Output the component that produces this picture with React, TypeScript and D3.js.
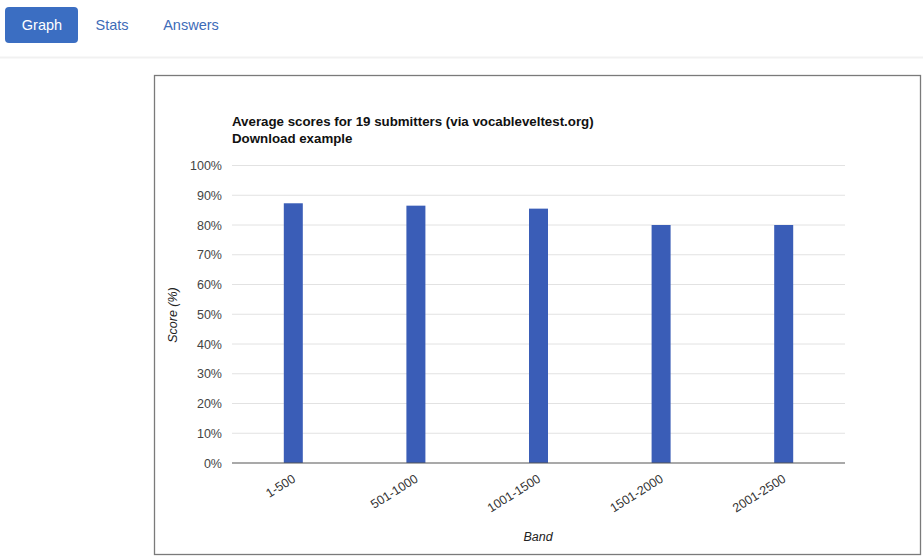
import React from "react";
import * as d3 from "d3";

const bands = ["1-500", "501-1000", "1001-1500", "1501-2000", "2001-2500"];
const scores = [0.873, 0.865, 0.855, 0.8, 0.8];
const yTicks = [0, 0.1, 0.2, 0.3, 0.4, 0.5, 0.6, 0.7, 0.8, 0.9, 1.0];
const tabs = ["Graph", "Stats", "Answers"];
const titleLines = ["Average scores for 19 submitters (via vocableveltest.org)", "Download example"];

const W = 923;
const H = 558;
const font = "'Liberation Sans', Arial, Helvetica, sans-serif";

export default function App() {
  const x = d3.scaleBand<string>().domain(bands).range([232, 845]).paddingInner(0.845).paddingOuter(0.4225);
  const y = d3.scaleLinear().domain([0, 1]).range([463, 165.5]);
  const fmt = d3.format(".0%");
  const tabX = [42, 112, 191];

  return (
    <svg width={W} height={H} style={{ position: "absolute", left: 0, top: 0, display: "block", background: "#fff" }} fontFamily={font}>
      {/* tabs */}
      <rect x={5} y={7} width={73} height={36} rx={4} fill="#3b6ec2" />
      {tabs.map((t, i) => (
        <text key={t} x={tabX[i]} y={30} textAnchor="middle" fontSize={14.5} fill={i === 0 ? "#fff" : "#3d6bb8"}>
          {t}
        </text>
      ))}
      <line x1={0} x2={W} y1={57.5} y2={57.5} stroke="#f1f1f1" strokeWidth={2} />

      {/* chart box */}
      <rect x={154.5} y={75.5} width={766} height={479} fill="#fff" stroke="#7a7a7a" strokeWidth={1.3} />

      {/* title */}
      {titleLines.map((l, i) => (
        <text key={i} x={232} y={126 + i * 17} fontSize={13.3} fontWeight="bold" fill="#111">
          {l}
        </text>
      ))}

      {/* gridlines & y ticks */}
      {yTicks.map((v) => (
        <g key={v}>
          {v > 0 && <line x1={232} x2={845} y1={y(v)} y2={y(v)} stroke="#e2e2e2" strokeWidth={1} />}
          <text x={222} y={y(v) + 4.5} textAnchor="end" fontSize={12.5} fill="#444">
            {fmt(v)}
          </text>
        </g>
      ))}

      {/* bars */}
      {bands.map((b, i) => (
        <rect key={b} x={x(b)!} y={y(scores[i])} width={x.bandwidth()} height={y(0) - y(scores[i])} fill="#3a5db7" />
      ))}

      {/* baseline */}
      <line x1={232} x2={845} y1={y(0)} y2={y(0)} stroke="#555" strokeWidth={1.2} />

      {/* x labels */}
      {bands.map((b) => {
        const cx = x(b)! + x.bandwidth() / 2;
        return (
          <text key={b} transform={`translate(${cx + 3},${y(0) + 18}) rotate(-32)`} textAnchor="end" fontSize={12.5} fill="#333">
            {b}
          </text>
        );
      })}

      {/* axis titles */}
      <text x={538} y={541} textAnchor="middle" fontSize={12.5} fontStyle="italic" fill="#222">
        Band
      </text>
      <text transform={`translate(177,315) rotate(-90)`} textAnchor="middle" fontSize={12.5} fontStyle="italic" fill="#222">
        Score (%)
      </text>
    </svg>
  );
}
